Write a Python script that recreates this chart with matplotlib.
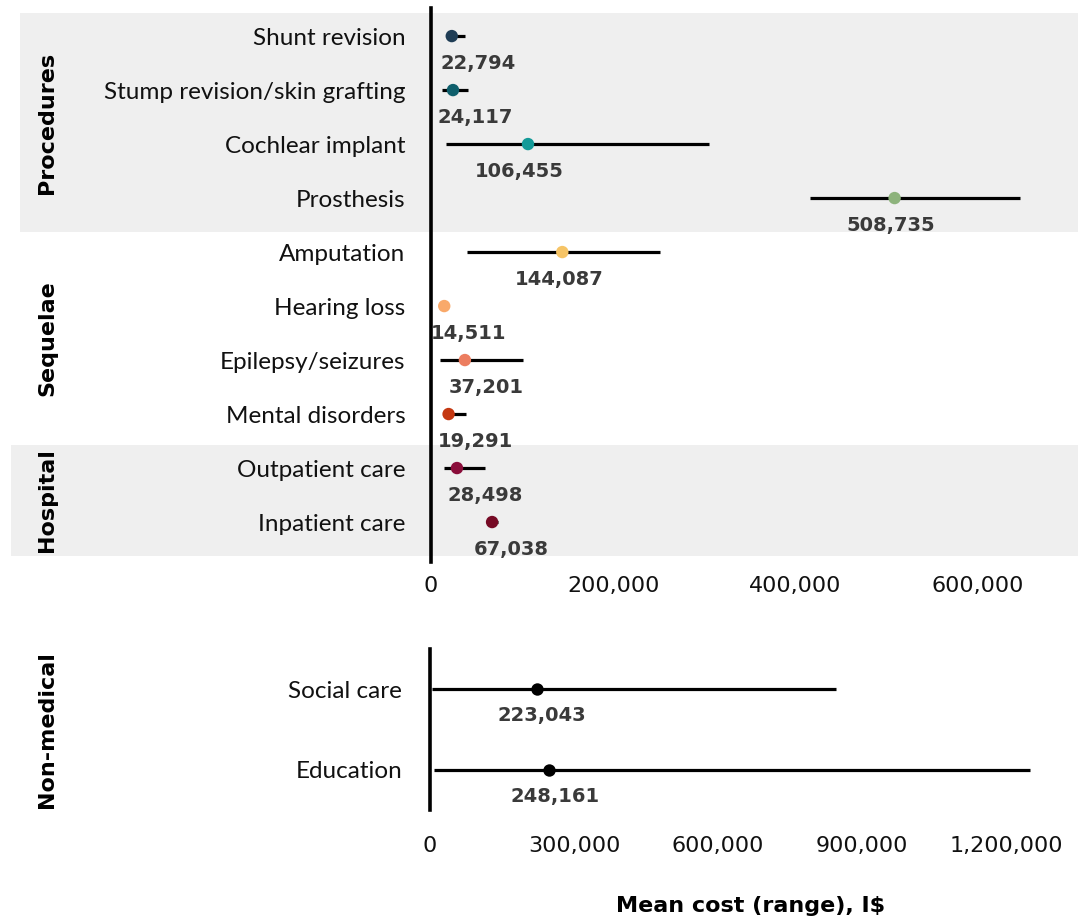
import matplotlib
matplotlib.use("Agg")
import matplotlib.pyplot as plt
import matplotlib.transforms as mtransforms
from matplotlib.patches import Rectangle
import numpy as np

# ---------------- data ----------------
categories = ["Shunt revision", "Stump revision/skin grafting", "Cochlear implant",
              "Prosthesis", "Amputation", "Hearing loss", "Epilepsy/seizures",
              "Mental disorders", "Outpatient care", "Inpatient care"]
means = [22794, 24117, 106455, 508735, 144087, 14511, 37201, 19291, 28498, 67038]
lows = [16000, 12000, 16500, 416000, 39500, 10000, 10000, 13000, 14000, 62000]
highs = [37000, 40500, 305000, 646000, 251000, 20000, 100500, 38000, 59000, 74000]
groups = ["Procedures", "Sequelae", "Hospital"]
group_first = [0, 4, 8]
group_last = [3, 7, 9]
top_ticks = [0, 200000, 400000, 600000]

nm_categories = ["Social care", "Education"]
nm_means = [223043, 248161]
nm_lows = [4000, 9000]
nm_highs = [845000, 1250000]
nm_group = "Non-medical"
bottom_ticks = [0, 300000, 600000, 900000, 1200000]
x_label = "Mean cost (range), I$"

# ---------------- style ----------------
dot_colors = ["#1f3d55", "#0f5f6c", "#139a98", "#8db37c", "#f6c466",
              "#f9a96a", "#ec7d5f", "#c43812", "#8a0d3a", "#760a25"]
label_nudge_px = [26, 22, -9, -4, -3, 24, 21, 27, 28, 19]
nm_nudge_px = [5, 6]
band_color = "#efefef"
val_color = "#3a3a3a"
CAT_FONT = ["Lato", "DejaVu Sans"]
NUM_FONT = ["DejaVu Sans"]
BOLD_FONT = ["DejaVu Sans"]

W, H = 1078, 921
fig = plt.figure(figsize=(W / 100, H / 100), dpi=100)


def px_axes(l, t, r, b):
    return fig.add_axes([l / W, 1 - b / H, (r - l) / W, (b - t) / H])


def fmt(v):
    return f"{v:,}"


def style_axis(ax):
    for s in ["top", "right", "bottom"]:
        ax.spines[s].set_visible(False)
    ax.spines["left"].set_linewidth(2.6)
    ax.spines["left"].set_color("black")
    ax.tick_params(axis="both", length=0)
    ax.patch.set_alpha(0)


def style_ticklabels(ax):
    for lab in ax.get_yticklabels():
        lab.set_family(CAT_FONT)
        lab.set_fontsize(17.5)
        lab.set_color("#111111")
    for lab in ax.get_xticklabels():
        lab.set_family(NUM_FONT)
        lab.set_fontsize(16)
        lab.set_color("#111111")


# ---------------- top panel ----------------
ax1 = px_axes(431, 8, 1078, 562)
style_axis(ax1)
y = np.arange(len(categories))
ax1.set_xlim(0, 710000)
ax1.set_ylim(9.74, -0.52)
ax1.hlines(y, lows, highs, color="black", lw=2.3, zorder=3)
ax1.scatter(means, y, s=80, c=dot_colors, zorder=4, linewidths=0)
for m, yi, dx in zip(means, y, label_nudge_px):
    ax1.annotate(fmt(m), (m, yi), xytext=(dx * 0.72, -19.5), textcoords="offset points",
                 ha="center", va="center", fontsize=14, fontweight="bold",
                 color=val_color, family=BOLD_FONT, zorder=5)
ax1.set_yticks(y, categories)
ax1.set_xticks(top_ticks, [fmt(t) for t in top_ticks])
ax1.tick_params(axis="y", pad=18.5)
ax1.tick_params(axis="x", pad=10)
style_ticklabels(ax1)

blend1 = mtransforms.blended_transform_factory(fig.transFigure, ax1.transData)
band_left = {0: 20 / W, 2: 11 / W}
for gi, (g, f, l) in enumerate(zip(groups, group_first, group_last)):
    top, bot = f - 0.43, l + 0.63
    if gi in band_left:
        ax1.add_patch(Rectangle((band_left[gi], top), 1 - band_left[gi], bot - top,
                                transform=blend1, color=band_color, zorder=0,
                                clip_on=False, lw=0))
    ax1.text(47 / W, (top + bot) / 2, g, transform=blend1, rotation=90,
             ha="center", va="center", fontsize=16, fontweight="bold",
             family=BOLD_FONT, color="black")

# ---------------- bottom panel ----------------
ax2 = px_axes(430, 649, 1078, 810)
style_axis(ax2)
y2 = np.arange(len(nm_categories))
ax2.set_xlim(0, 1350000)
ax2.set_ylim(1.494, -0.494)
ax2.hlines(y2, nm_lows, nm_highs, color="black", lw=2.3, zorder=3)
ax2.scatter(nm_means, y2, s=80, c="black", zorder=4, linewidths=0)
for m, yi, dx in zip(nm_means, y2, nm_nudge_px):
    ax2.annotate(fmt(m), (m, yi), xytext=(dx * 0.72, -19), textcoords="offset points",
                 ha="center", va="center", fontsize=14, fontweight="bold",
                 color=val_color, family=BOLD_FONT)
ax2.set_yticks(y2, nm_categories)
ax2.set_xticks(bottom_ticks, [fmt(t) for t in bottom_ticks])
ax2.tick_params(axis="y", pad=20)
ax2.tick_params(axis="x", pad=19)
style_ticklabels(ax2)
blend2 = mtransforms.blended_transform_factory(fig.transFigure, ax2.transData)
ax2.text(47 / W, 0.5, nm_group, transform=blend2, rotation=90, ha="center",
         va="center", fontsize=16, fontweight="bold", family=BOLD_FONT, color="black")

fig.text(751 / W, 1 - 906 / H, x_label, ha="center", va="center", fontsize=16,
         fontweight="bold", family=BOLD_FONT, color="black")

fig.savefig("out.png", dpi=100)
